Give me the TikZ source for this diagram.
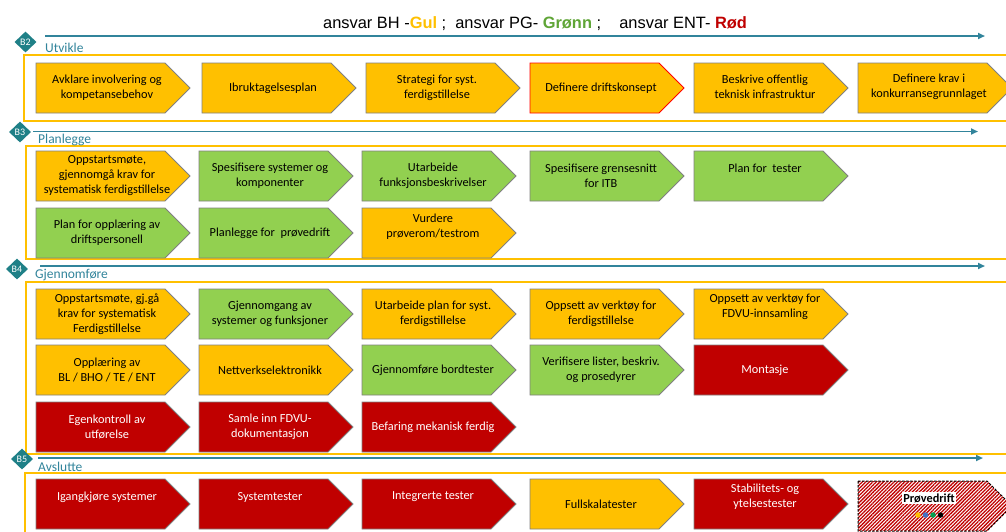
\documentclass[tikz,border=0pt]{standalone}
\usepackage{fontspec}
\setmainfont{Carlito}
\newfontfamily\arialfont{Liberation Sans}
\usetikzlibrary{patterns.meta,arrows.meta,shapes.geometric}
\definecolor{cyel}{HTML}{FFC000}
\definecolor{cgrn}{HTML}{92D050}
\definecolor{cred}{HTML}{C00000}
\definecolor{cteal}{HTML}{31849B}
\definecolor{cdia}{HTML}{1F8087}
\definecolor{cedge}{HTML}{808080}
\definecolor{tgrn}{HTML}{5FA536}
\definecolor{dblue}{HTML}{4472C4}
\definecolor{dgreen}{HTML}{00A050}
\tikzset{
  x=1pt, y=-1pt,
  yb/.style={fill=cyel, draw=cedge, line width=0.8pt},
  gb/.style={fill=cgrn, draw=cedge, line width=0.8pt},
  rb/.style={fill=cred, draw=cedge, line width=0.8pt},
  txt/.style={align=center, font=\fontsize{12.3}{15}\selectfont, inner sep=0pt, text=black},
  wtxt/.style={txt, text=white},
  sect/.style={draw=cyel, line width=1.5pt},
  phase/.style={draw=cteal, line width=1.8pt, -{Triangle[length=7pt,width=6pt]}},
  dia/.style={diamond, fill=cdia, text=white, inner sep=0pt, minimum width=22pt, minimum height=21pt, font=\fontsize{10}{10}\selectfont},
  lab/.style={anchor=west, text=cteal, font=\fontsize{13.5}{16}\selectfont, inner sep=0pt},
  dot/.style={circle, inner sep=0pt, minimum size=5.5pt},
}
\newcommand\chev[6]{%
  \draw[#4] (#2,#3) -- ++(129,0) -- ++(25,25) -- ++(-25,25) -- ++(-129,0) -- cycle;
  \node[#5] (#1) at (#2+71,#3+25) {#6};
}
\begin{document}
\begin{tikzpicture}
\useasboundingbox (0,0) rectangle (1006,531);
\fill[white] (0,0) rectangle (1006,531);
\clip (0,0) rectangle (1006,531);

% title
\node[anchor=base west, inner sep=0pt, font=\arialfont\fontsize{16.4}{20}\selectfont] (title) at (323,28)
 {ansvar BH -\textbf{\textcolor{cyel}{Gul}} ;\ \ ansvar PG- \textbf{\textcolor{tgrn}{Grønn}} ;\ \ \ \ ansvar ENT- \textbf{\textcolor{cred}{Rød}}};

% section frames
\draw[sect] (24,55) rectangle (1030,121);
\draw[sect] (26,146) rectangle (1030,259);
\draw[sect] (26,282) rectangle (1030,454);
\draw[sect] (25,473) rectangle (1030,545);

% phase lines
\coordinate (p2s) at (45,36);   \coordinate (p2e) at (985,36);
\coordinate (p3s) at (33,131.5);\coordinate (p3e) at (978,131.5);
\coordinate (p4s) at (40,266);  \coordinate (p4e) at (985,266);
\coordinate (p5s) at (38,458);  \coordinate (p5e) at (983,458);
\draw[phase] (p2s) -- (p2e);
\draw[phase] (p3s) -- (p3e);
\draw[phase] (p4s) -- (p4e);
\draw[phase] (p5s) -- (p5e);

\node[dia] (d2) at (25.5,42) {B2};
\node[dia] (d3) at (20,132) {B3};
\node[dia] (d4) at (17,269) {B4};
\node[dia] (d5) at (22,459) {B5};

\node[lab] (l2) at (45,48) {Utvikle};
\node[lab] (l3) at (38,140) {Planlegge};
\node[lab] (l4) at (35,275) {Gjennomføre};
\node[lab] (l5) at (38,467) {Avslutte};

% B2
\chev{a1}{36}{63}{yb}{txt}{Avklare involvering og\\kompetansebehov}
\chev{a2}{202}{63}{yb}{txt}{Ibruktagelsesplan}
\chev{a3}{366}{63}{yb}{txt}{Strategi for syst.\\ferdigstillelse}
\chev{a4}{530}{63}{yb,draw=red}{txt}{Definere driftskonsept}
\chev{a5}{694}{63}{yb}{txt,yshift=1}{Beskrive offentlig\\teknisk infrastruktur}
\chev{a6}{858}{63}{yb}{txt,yshift=1}{Definere krav i\\konkurransegrunnlaget}

% B3
\chev{b1}{36}{151}{yb}{txt}{Oppstartsmøte,\\gjennomgå krav for\\systematisk ferdigstillelse}
\chev{b2}{199}{151}{gb}{txt}{Spesifisere systemer og\\komponenter}
\chev{b3}{362}{151}{gb}{txt}{Utarbeide\\funksjonsbeskrivelser}
\chev{b4}{530}{151}{gb}{txt}{Spesifisere grensesnitt\\for ITB}
\chev{b5}{694}{151}{gb}{txt,yshift=8}{Plan for\ \ tester}
\chev{b6}{36}{208}{gb}{txt}{Plan for opplæring av\\driftspersonell}
\chev{b7}{199}{208}{gb}{txt}{Planlegge for\ \ prøvedrift}
\chev{b8}{362}{208}{yb}{txt,yshift=6.5}{Vurdere\\prøverom/testrom}

% B4
\chev{c1}{36}{289}{yb}{txt}{Oppstartsmøte, gj.gå\\krav for systematisk\\Ferdigstillelse}
\chev{c2}{199}{289}{gb}{txt}{Gjennomgang av\\systemer og funksjoner}
\chev{c3}{362}{289}{yb}{txt}{Utarbeide plan for syst.\\ferdigstillelse}
\chev{c4}{530}{289}{yb}{txt}{Oppsett av verktøy for\\ferdigstillelse}
\chev{c5}{694}{289}{yb}{txt,yshift=7}{Oppsett av verktøy for\\FDVU-innsamling}
\chev{c6}{36}{345}{yb}{txt}{Opplæring av\\BL / BHO / TE / ENT}
\chev{c7}{199}{345}{yb}{txt}{Nettverkselektronikk}
\chev{c8}{362}{345}{gb}{txt}{Gjennomføre bordtester}
\chev{c9}{530}{345}{gb}{txt}{Verifisere lister, beskriv.\\og prosedyrer}
\chev{c10}{694}{345}{rb}{wtxt}{Montasje}
\chev{c11}{36}{402}{rb}{wtxt}{Egenkontroll av\\utførelse}
\chev{c12}{199}{402}{rb}{wtxt}{Samle inn FDVU-\\dokumentasjon}
\chev{c13}{362}{402}{rb}{wtxt}{Befaring mekanisk ferdig}

% B5
\chev{e1}{36}{479}{rb}{wtxt,yshift=7}{Igangkjøre systemer}
\chev{e2}{199}{479}{rb}{wtxt,yshift=7}{Systemtester}
\chev{e3}{362}{479}{rb}{wtxt,yshift=7}{Integrerte tester}
\chev{e4}{530}{479}{yb}{txt}{Fullskalatester}
\chev{e5}{694}{479}{rb}{wtxt,yshift=7}{Stabilitets- og\\ytelsestester}
\draw[preaction={fill=white}, pattern={Lines[angle=45,distance=2.5pt,line width=1.3pt]}, pattern color=cred, draw=black, line width=1pt, dash pattern=on 2.5pt off 1.5pt]
  (858,481) -- ++(129,0) -- ++(25,25) -- ++(-25,25) -- ++(-129,0) -- cycle;
\node[txt, font=\bfseries\fontsize{12.3}{15}\selectfont, fill=white, inner sep=1pt] (e6) at (929,498) {Prøvedrift};
\node[dot, fill=cyel] (o1) at (918,515) {};
\node[dot, fill=dblue] (o2) at (925.5,515) {};
\node[dot, fill=dgreen] (o3) at (933,515) {};
\node[dot, fill=black] (o4) at (940.5,515) {};
\end{tikzpicture}
\end{document}
